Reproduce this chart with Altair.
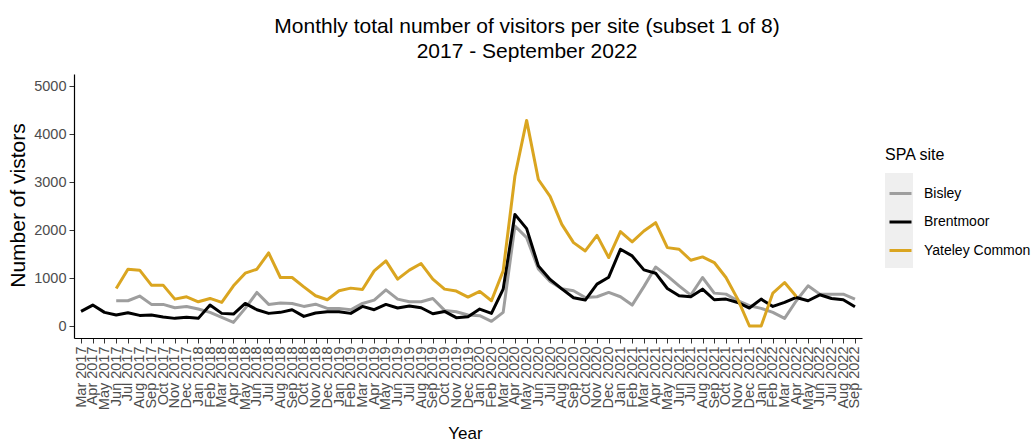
import altair as alt
import pandas as pd

months = [
    "Mar 2017", "Apr 2017", "May 2017", "Jun 2017", "Jul 2017", "Aug 2017", "Sep 2017", "Oct 2017", "Nov 2017", "Dec 2017",
    "Jan 2018", "Feb 2018", "Mar 2018", "Apr 2018", "May 2018", "Jun 2018", "Jul 2018", "Aug 2018", "Sep 2018", "Oct 2018", "Nov 2018", "Dec 2018",
    "Jan 2019", "Feb 2019", "Mar 2019", "Apr 2019", "May 2019", "Jun 2019", "Jul 2019", "Aug 2019", "Sep 2019", "Oct 2019", "Nov 2019", "Dec 2019",
    "Jan 2020", "Feb 2020", "Mar 2020", "Apr 2020", "May 2020", "Jun 2020", "Jul 2020", "Aug 2020", "Sep 2020", "Oct 2020", "Nov 2020", "Dec 2020",
    "Jan 2021", "Feb 2021", "Mar 2021", "Apr 2021", "May 2021", "Jun 2021", "Jul 2021", "Aug 2021", "Sep 2021", "Oct 2021", "Nov 2021", "Dec 2021",
    "Jan 2022", "Feb 2022", "Mar 2022", "Apr 2022", "May 2022", "Jun 2022", "Jul 2022", "Aug 2022", "Sep 2022",
]

brentmoor = [
    304, 436, 284, 228, 277, 221, 228, 187, 159, 180,
    159, 436, 263, 249, 470, 339, 263, 284, 339, 200, 270, 298,
    298, 263, 408, 339, 450, 374, 415, 381, 256, 304, 173, 194,
    353, 263, 768, 2325, 2028, 1253, 970, 775, 588, 540, 872, 1017,
    1599, 1460, 1169, 1100, 782, 630, 609, 768, 547, 560, 491, 374,
    560, 408, 491, 595, 526, 650, 574, 547, 401,
]

bisley = [
    None, None, None, 526, 526, 623, 450, 450, 381, 408,
    353, 284, 180, 76, 367, 699, 450, 477, 470, 408, 455, 367,
    367, 339, 470, 540, 754, 560, 505, 505, 574, 325, 298, 228,
    215, 97, 284, 2083, 1841, 1190, 930, 775, 733, 595, 609, 699,
    609, 436, 820, 1230, 1045, 837, 644, 1010, 685, 664, 526, 422,
    367, 284, 159, 526, 837, 664, 664, 664, 560,
]

yateley = [
    None, None, None, 782, 1183, 1163, 851, 851, 560, 609,
    505, 574, 491, 837, 1100, 1183, 1522, 1010, 1010, 815, 630, 547,
    733, 789, 761, 1149, 1356, 976, 1163, 1301, 976, 768, 727, 602,
    720, 526, 1149, 3121, 4283, 3052, 2700, 2118, 1737, 1564, 1889, 1426,
    1965, 1751, 1979, 2152, 1633, 1599, 1370, 1439, 1322, 1010, 560, 0,
    0, 685, 906, 616, None, None, None, None, None,
]

sites = ["Bisley", "Brentmoor", "Yateley Common"]
colors = ["#9E9E9E", "#000000", "#DAA520"]
series = {"Bisley": bisley, "Brentmoor": brentmoor, "Yateley Common": yateley}

rows = []
for site in sites:
    for m, v in zip(months, series[site]):
        if v is not None:
            rows.append({"month": m, "visitors": v, "site": site})
df = pd.DataFrame(rows)

FONT = "Liberation Sans"

lines = alt.Chart(df).mark_line(strokeWidth=3, strokeJoin="round").encode(
    x=alt.X(
        "month:O",
        sort=months,
        scale=alt.Scale(type="point", domain=months, padding=0.6),
        axis=alt.Axis(
            title="Year",
            labelAngle=270,
            labelAlign="right",
            labelBaseline="middle",
            labelFontSize=14.5,
            labelColor="#4D4D4D",
            labelPadding=3,
            labelOverlap=False,
            tickSize=5,
            tickColor="#333333",
            domainColor="#000000",
            domainWidth=1.2,
            titleFontSize=17,
            titleFontWeight="normal",
            titleColor="#000000",
            titleX=391,
            titleY=100,
            titleBaseline="alphabetic",
        ),
    ),
    y=alt.Y(
        "visitors:Q",
        scale=alt.Scale(domain=[-250, 5250], nice=False, zero=False),
        axis=alt.Axis(
            title="Number of vistors",
            values=[0, 1000, 2000, 3000, 4000, 5000],
            format="d",
            grid=False,
            labelFontSize=14.5,
            labelColor="#4D4D4D",
            labelPadding=3,
            tickSize=5,
            tickColor="#333333",
            domainColor="#000000",
            domainWidth=1.2,
            titleFontSize=21,
            titleFontWeight="normal",
            titleColor="#000000",
            titleX=-56,
            titleY=131,
            titleBaseline="middle",
            titleAlign="center",
        ),
    ),
    color=alt.Color(
        "site:N",
        scale=alt.Scale(domain=sites, range=colors),
        legend=alt.Legend(
            title="SPA site",
            orient="none",
            legendX=811,
            legendY=73,
            titleFontSize=16,
            titleFontWeight="normal",
            titleColor="#000000",
            titlePadding=18,
            symbolType="stroke",
            symbolSize=484,
            symbolStrokeWidth=3,
            symbolOffset=3,
            labelFontSize=14,
            labelColor="#000000",
            labelOffset=11,
            rowPadding=8.5,
            padding=0,
        ),
    ),
)

key_bg = alt.Chart(pd.DataFrame({"k": [0]})).mark_rule(
    strokeWidth=28, strokeCap="butt", color="#EFEFEF"
).encode(x=alt.value(825), y=alt.value(99), y2=alt.value(194))

chart = alt.layer(key_bg, lines).properties(
    width=788,
    height=264,
    autosize=alt.AutoSizeParams(type="none"),
    padding={"left": 74, "top": 74, "right": 173, "bottom": 105},
    title=alt.Title(
        text=["Monthly total number of visitors per site (subset 1 of 8)", "2017 - September 2022"],
        fontSize=21,
        fontWeight="normal",
        color="#000000",
        anchor="middle",
        dx=59,
        lineHeight=25,
        offset=12,
    ),
).configure(font=FONT).configure_view(stroke=None).configure_legend(
    symbolFillColor="transparent", fillColor="transparent"
)

chart.save("out.html", embed_options={"renderer": "svg", "actions": False})
